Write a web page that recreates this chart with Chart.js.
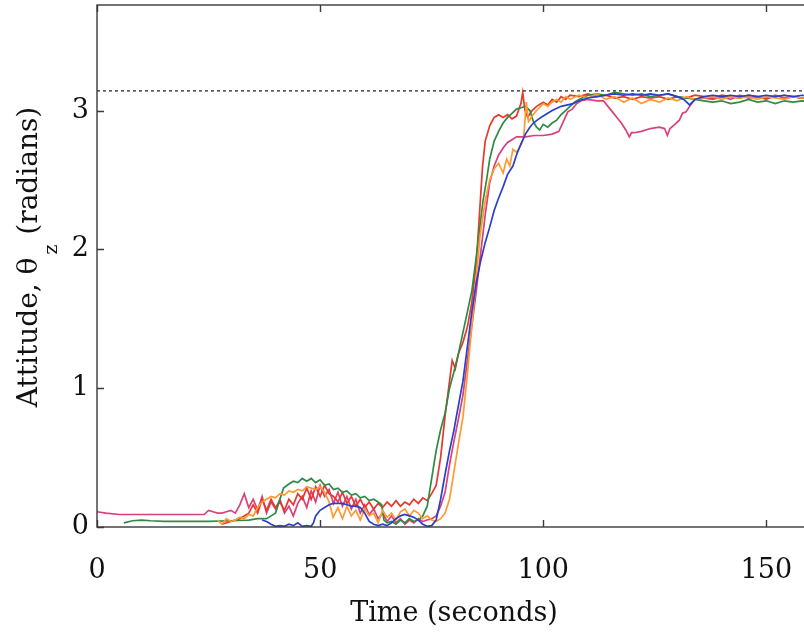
<!DOCTYPE html>
<html>
<head>
<meta charset="utf-8">
<script src="https://cdn.jsdelivr.net/npm/chart.js@4.4.0/dist/chart.umd.min.js"></script>
<style>
  html, body { margin: 0; padding: 0; background: #fff; overflow: hidden; }
  #wrap { width: 830px; height: 639px; }
</style>
</head>
<body>
<div id="wrap"><canvas id="chart" width="830" height="639"></canvas></div>
<script>
// tick values
const xTicks = [0, 50, 100, 150];
const yTicks = [0, 1, 2, 3];
const refLevel = Math.PI;

// runs: [time (s), attitude (rad)]
const blueRun = [[37,0.05],[38,0.04],[39,0.02],[40,0.005],[41,0.01],[42,0.005],[43,0.02],[44,0.01],[45,0.03],[46,0.005],[47,0.01],[48,0.005],[48.5,0.03],[49,0.08],[50,0.12],[51,0.14],[52,0.16],[53,0.17],[54,0.17],[55,0.17],[56,0.16],[57,0.15],[58,0.15],[59,0.14],[60,0.1],[61,0.04],[62,0.02],[63,0.01],[64,0.02],[65,0.01],[66,0.03],[67,0.06],[68,0.08],[69,0.09],[70,0.08],[71,0.07],[72,0.05],[73,0.02],[74,0.005],[75,0.01],[76,0.05],[77,0.2],[78,0.38],[79,0.55],[80,0.7],[80.5,0.79],[82,1.05],[83,1.3],[84,1.55],[85,1.76],[86,1.92],[87,2.05],[88,2.16],[89,2.28],[90,2.37],[91,2.45],[92,2.54],[93.2,2.6],[94,2.68],[95,2.76],[96,2.83],[97,2.88],[97.8,2.91],[99,2.94],[100,2.96],[101,2.98],[102,3.0],[104,3.03],[106.7,3.05],[108,3.07],[110,3.09],[112,3.1],[114,3.11],[116,3.12],[118,3.11],[120,3.12],[122,3.11],[124,3.12],[126,3.11],[128,3.12],[130,3.1],[131.5,3.08],[132.8,3.04],[134,3.08],[136,3.1],[138,3.11],[140,3.1],[142,3.11],[144,3.1],[146,3.11],[148,3.1],[150,3.11],[152,3.1],[154,3.11],[156,3.1],[158,3.11],[160,3.1]];

const orangeRun = [[27,0.05],[28,0.02],[29,0.06],[30,0.04],[31,0.05],[32,0.07],[33,0.06],[34,0.09],[35,0.08],[36,0.14],[37,0.18],[38,0.2],[39,0.22],[40,0.21],[41,0.24],[42,0.23],[43,0.26],[44,0.25],[45,0.27],[46,0.26],[47,0.29],[48,0.28],[49,0.27],[50,0.29],[51,0.25],[52,0.18],[52.9,0.07],[54,0.14],[55,0.06],[56,0.15],[57,0.08],[58,0.12],[59,0.05],[60,0.13],[61,0.08],[62,0.1],[63,0.03],[64,0.12],[65,0.07],[66,0.1],[67,0.05],[68,0.11],[69,0.13],[70,0.08],[71,0.12],[72,0.1],[73,0.06],[74,0.08],[75,0.05],[76,0.04],[77,0.06],[78,0.1],[79,0.2],[80,0.4],[81,0.6],[82,0.79],[83,1.1],[84,1.45],[85,1.8],[85.8,2.09],[87,2.35],[88,2.5],[89,2.58],[90,2.62],[91,2.55],[91.8,2.65],[92.5,2.6],[93.2,2.72],[94,2.7],[95,2.75],[95.6,2.8],[96.2,3.06],[96.7,2.92],[97.5,2.96],[98.5,3.0],[100,3.05],[101,3.03],[102,3.06],[103,3.08],[104,3.06],[105,3.1],[106,3.08],[108,3.11],[110,3.09],[112,3.12],[114,3.08],[116,3.1],[118,3.06],[120,3.09],[122,3.05],[124,3.08],[126,3.06],[128,3.09],[130,3.07],[132,3.1],[134,3.08],[136,3.09],[138,3.1],[140,3.08],[142,3.1],[144,3.09],[146,3.1],[148,3.08],[150,3.1],[152,3.09],[154,3.08],[156,3.1],[158,3.09],[160,3.08]];

const greenRun = [[6,0.03],[8,0.045],[10,0.05],[12,0.045],[15,0.04],[20,0.04],[25,0.04],[30,0.045],[34,0.05],[36,0.06],[38,0.06],[39,0.08],[40,0.1],[41,0.2],[41.8,0.28],[43,0.31],[44,0.33],[45,0.32],[46,0.35],[47,0.33],[48,0.35],[49,0.32],[50,0.34],[51,0.3],[52,0.31],[53,0.27],[54,0.28],[55,0.25],[56,0.26],[57,0.23],[58,0.24],[59,0.21],[60,0.22],[61,0.19],[62,0.2],[63,0.18],[63.8,0.16],[64.3,0.05],[65,0.03],[66,0.04],[67,0.02],[68,0.05],[69,0.03],[70,0.06],[71,0.04],[72,0.05],[73,0.08],[74,0.15],[75,0.35],[76,0.55],[77,0.7],[78,0.82],[79,1.0],[80,1.12],[81,1.25],[82,1.4],[83,1.55],[84,1.7],[85,1.95],[85.8,2.16],[86.5,2.35],[87.3,2.5],[88,2.65],[89,2.78],[90,2.85],[91,2.91],[92,2.95],[93,2.98],[94,3.01],[95,3.02],[96,3.03],[97,3.0],[97.8,2.92],[98.5,2.88],[99.2,2.86],[100,2.9],[101,2.88],[102,2.91],[103,2.93],[104,2.97],[105,3.0],[106,3.03],[107,3.06],[108,3.08],[110,3.11],[112,3.12],[114,3.11],[116,3.13],[118,3.12],[120,3.11],[122,3.12],[124,3.1],[126,3.11],[128,3.12],[130,3.1],[132,3.09],[134,3.08],[136,3.07],[138,3.06],[140,3.07],[142,3.05],[144,3.06],[146,3.08],[148,3.06],[150,3.07],[152,3.05],[154,3.07],[156,3.06],[158,3.07],[160,3.06]];

const redRun = [[28,0.02],[30,0.04],[32,0.06],[34,0.1],[35,0.16],[36,0.1],[37,0.2],[38,0.12],[39,0.2],[40,0.14],[41,0.18],[42,0.12],[43,0.2],[44,0.16],[45,0.24],[46,0.2],[47,0.28],[48,0.2],[49,0.29],[50,0.22],[51,0.3],[52,0.24],[53,0.22],[54,0.18],[55,0.25],[56,0.17],[57,0.22],[58,0.15],[59,0.2],[60,0.14],[61,0.18],[62,0.13],[63,0.17],[64,0.14],[65,0.18],[66,0.15],[67,0.19],[68,0.15],[69,0.18],[70,0.16],[71,0.2],[72,0.17],[73,0.21],[74,0.19],[75,0.24],[76,0.3],[77,0.5],[78,0.8],[79,1.05],[79.6,1.2],[80.3,1.14],[81,1.25],[82,1.33],[83,1.44],[84,1.62],[85,1.9],[85.8,2.3],[86.4,2.6],[87,2.78],[88,2.89],[89,2.95],[90,2.97],[91,2.95],[92,2.97],[93,2.94],[94,2.96],[95,3.05],[95.4,3.13],[95.9,3.0],[96.5,2.95],[97.5,3.0],[98.5,3.03],[100,3.06],[101,3.04],[102,3.08],[103,3.06],[104,3.1],[105,3.08],[106,3.11],[108,3.1],[110,3.12],[112,3.1],[114,3.11],[116,3.09],[118,3.1],[120,3.08],[122,3.1],[124,3.09],[126,3.1],[128,3.08],[130,3.1],[132,3.09],[134,3.11],[136,3.1],[138,3.09],[140,3.11],[142,3.1],[144,3.09],[146,3.11],[148,3.1],[150,3.09],[152,3.1],[154,3.11],[156,3.1],[158,3.09],[160,3.1]];

const pinkRun = [[0,0.11],[2,0.1],[5,0.09],[10,0.09],[15,0.09],[20,0.09],[24,0.09],[25,0.12],[26,0.11],[27,0.1],[28,0.1],[29,0.11],[30,0.12],[31,0.1],[32,0.16],[33,0.24],[34,0.14],[35,0.2],[36,0.12],[37,0.22],[38,0.1],[39,0.18],[40,0.13],[41,0.2],[42,0.1],[43,0.15],[44,0.08],[45,0.17],[46,0.22],[47,0.14],[48,0.26],[49,0.18],[50,0.3],[51,0.22],[52,0.27],[53,0.17],[54,0.25],[55,0.15],[56,0.22],[57,0.13],[58,0.2],[59,0.1],[60,0.16],[61,0.09],[62,0.13],[63,0.06],[64,0.1],[65,0.04],[66,0.08],[67,0.03],[68,0.06],[69,0.02],[70,0.05],[71,0.03],[72,0.06],[73,0.04],[74,0.05],[75,0.06],[76,0.08],[77,0.15],[78,0.25],[79,0.45],[80,0.62],[81,0.78],[82,0.95],[83,1.2],[84,1.45],[85,1.7],[86,1.98],[87,2.25],[88,2.48],[89,2.6],[90,2.68],[91,2.73],[92,2.77],[93,2.79],[94,2.81],[96,2.81],[98,2.82],[100,2.82],[102,2.83],[103.5,2.85],[104.5,2.92],[105.5,2.99],[106.5,3.01],[107.5,3.05],[108.5,3.07],[110,3.08],[112,3.07],[113.5,3.07],[114.5,3.03],[115.5,2.99],[116.5,2.95],[117.5,2.91],[118.5,2.86],[119.3,2.81],[119.8,2.84],[120.5,2.84],[122,2.85],[124,2.87],[126,2.88],[127.2,2.87],[127.8,2.82],[128.4,2.87],[129.5,2.9],[130.5,2.93],[131.2,2.98],[132,2.99],[133,3.04],[134,3.08],[136,3.09],[138,3.08],[140,3.1],[142,3.08],[144,3.11],[146,3.09],[148,3.1],[150,3.08],[152,3.11],[154,3.09],[156,3.1],[158,3.09],[160,3.1]];

const FONT = "'DejaVu Serif', serif";

function toPoints(run) {
  return run.map(p => ({ x: p[0], y: p[1] }));
}

function runSet(run, color) {
  return {
    data: toPoints(run),
    borderColor: color,
    borderWidth: 1.7,
    pointRadius: 0,
    tension: 0,
    fill: false
  };
}

// box round the plot with inward ticks, like the original
const framePlugin = {
  id: "frame",
  afterDatasetsDraw(chart) {
    const { ctx, chartArea: a, scales } = chart;
    ctx.save();
    ctx.strokeStyle = "#3a3a3a";
    ctx.lineWidth = 1.4;
    ctx.strokeRect(a.left, a.top, a.right - a.left, a.bottom - a.top);
    ctx.beginPath();
    xTicks.forEach(v => {
      const px = Math.round(scales.x.getPixelForValue(v)) + 0.5;
      ctx.moveTo(px, a.bottom); ctx.lineTo(px, a.bottom - 7);
      ctx.moveTo(px, a.top); ctx.lineTo(px, a.top + 7);
    });
    yTicks.forEach(v => {
      const py = Math.round(scales.y.getPixelForValue(v)) + 0.5;
      ctx.moveTo(a.left, py); ctx.lineTo(a.left + 7, py);
      ctx.moveTo(a.right, py); ctx.lineTo(a.right - 7, py);
    });
    ctx.stroke();
    ctx.restore();
  }
};

// y title with a subscript z
const yTitlePlugin = {
  id: "yTitle",
  afterDraw(chart) {
    const ctx = chart.ctx;
    const main1 = "Attitude, θ";
    const sub = "z";
    const main2 = " (radians)";
    ctx.save();
    ctx.fillStyle = "#111";
    ctx.textBaseline = "alphabetic";
    ctx.font = "28px " + FONT;
    const w1 = ctx.measureText(main1).width;
    const w3 = ctx.measureText(main2).width;
    ctx.font = "19px " + FONT;
    const w2 = ctx.measureText(sub).width + 4;
    const total = w1 + w2 + w3;
    ctx.translate(37, 257);
    ctx.rotate(-Math.PI / 2);
    let x = -total / 2;
    ctx.font = "28px " + FONT;
    ctx.fillText(main1, x, 0);
    x += w1 + 3;
    ctx.font = "19px " + FONT;
    ctx.fillText(sub, x, 20);
    x += w2 - 3;
    ctx.font = "28px " + FONT;
    ctx.fillText(main2, x, 0);
    ctx.restore();
  }
};

const ctx = document.getElementById("chart");

new Chart(ctx, {
  type: "line",
  data: {
    datasets: [
      {
        data: [{ x: 0, y: refLevel }, { x: 160, y: refLevel }],
        borderColor: "#222",
        borderWidth: 1.1,
        borderDash: [3, 3],
        pointRadius: 0
      },
      runSet(blueRun, "#2b3fcb"),
      runSet(orangeRun, "#ff9a30"),
      runSet(greenRun, "#2f8a45"),
      runSet(redRun, "#e8372c"),
      runSet(pinkRun, "#d8417a")
    ]
  },
  options: {
    responsive: false,
    animation: false,
    devicePixelRatio: 1,
    layout: { padding: { top: 5, right: 19, left: 0, bottom: 0 } },
    plugins: {
      legend: { display: false },
      tooltip: { enabled: false }
    },
    scales: {
      x: {
        type: "linear",
        min: 0,
        max: 160,
        grid: { display: false, drawTicks: false },
        border: { display: false },
        afterBuildTicks: s => { s.ticks = xTicks.map(v => ({ value: v })); },
        afterFit: s => { s.height = 112; },
        ticks: {
          padding: 28,
          maxRotation: 0,
          autoSkip: false,
          color: "#111",
          font: { family: FONT, size: 27 }
        },
        title: {
          display: true,
          text: "Time (seconds)",
          color: "#111",
          font: { family: FONT, size: 27 },
          padding: { top: 0, bottom: 9 }
        }
      },
      y: {
        min: 0,
        max: 3.76,
        grid: { display: false, drawTicks: false },
        border: { display: false },
        afterBuildTicks: s => { s.ticks = yTicks.map(v => ({ value: v })); },
        afterFit: s => {
          s.width = 97;
          s.paddingTop = 0;
          s.paddingBottom = 0;
        },
        ticks: {
          padding: 8,
          color: "#111",
          font: { family: FONT, size: 27, lineHeight: 0.3 }
        }
      }
    }
  },
  plugins: [framePlugin, yTitlePlugin]
});
</script>
</body>
</html>
